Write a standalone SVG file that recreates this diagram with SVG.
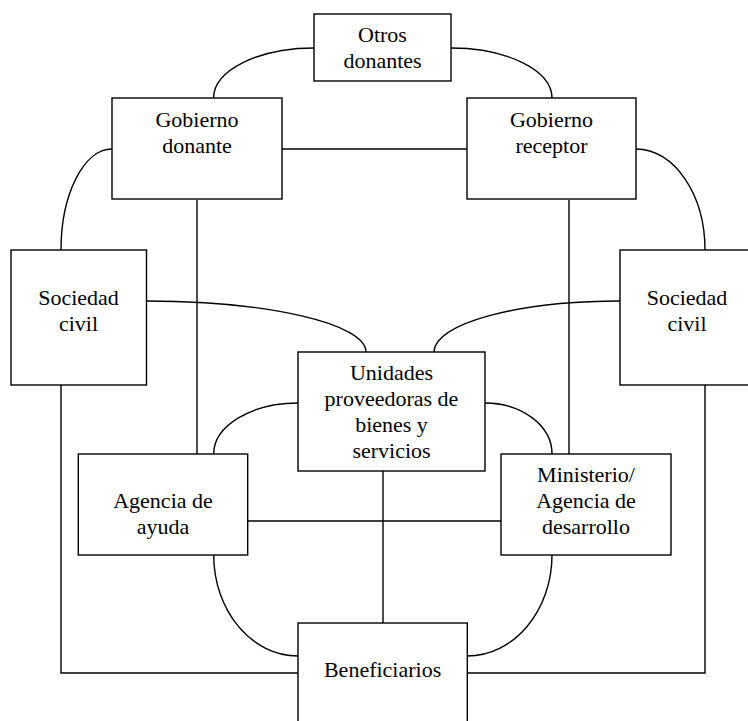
<svg xmlns="http://www.w3.org/2000/svg" width="748" height="721" viewBox="0 0 748 721">
<style>
.box{fill:#fff;stroke:#000;stroke-width:1.4}
.conn path{fill:none;stroke:#000;stroke-width:1.4}
.t text{font-size:22px;fill:#000;text-anchor:middle}
</style>
<rect width="748" height="721" fill="#fff"/>
<g class="conn" id="connectors">
<path d="M314,48 C258.6,48 213.6,70.4 213.6,98"/>
<path d="M451,48 C506.8,48 552,70.4 552,98"/>
<path d="M112,149 C83.8,149 61,194.2 61,250"/>
<path d="M636,149 C674.1,149 705,194.2 705,250"/>
<path d="M146.5,301 C267.7,301 366,323.8 366,352"/>
<path d="M620,301 C517.3,301 434,323.8 434,352"/>
<path d="M298,403 C251.5,403 213.7,425.8 213.7,454"/>
<path d="M485,403 C522,403 552,425.8 552,454"/>
<path d="M213.7,555 C213.7,610.8 251.5,656 298,656"/>
<path d="M552,555 C552,610.8 513.9,656 467,656"/>
<path d="M282,149 H467"/>
<path d="M197,200 V454"/>
<path d="M569,200 V454"/>
<path d="M61,385 V673 H298"/>
<path d="M705,385 V673 H467"/>
<path d="M247.7,521 H501"/>
<path d="M383,471 V623"/>
</g>
<g class="t" font-family="Liberation Serif, serif">
<g id="otros">
<rect class="box" x="314" y="14" width="137" height="67"/>
<text x="382.5" y="42">Otros</text>
<text x="382.5" y="68">donantes</text>
</g>
<g id="gob-donante">
<rect class="box" x="112" y="98" width="170" height="101"/>
<text x="197" y="127">Gobierno</text>
<text x="197" y="153">donante</text>
</g>
<g id="gob-receptor">
<rect class="box" x="467" y="98" width="169" height="101"/>
<text x="551.5" y="127">Gobierno</text>
<text x="551.5" y="153">receptor</text>
</g>
<g id="soc-izq">
<rect class="box" x="11" y="250" width="135.5" height="135"/>
<text x="78.5" y="305">Sociedad</text>
<text x="78.5" y="331">civil</text>
</g>
<g id="soc-der">
<rect class="box" x="620" y="250" width="134" height="135"/>
<text x="687" y="305">Sociedad</text>
<text x="687" y="331">civil</text>
</g>
<g id="unidades">
<rect class="box" x="298" y="352" width="187" height="119"/>
<text x="391.5" y="380">Unidades</text>
<text x="391.5" y="406">proveedoras de</text>
<text x="391.5" y="432">bienes y</text>
<text x="391.5" y="458">servicios</text>
</g>
<g id="agencia">
<rect class="box" x="78.3" y="454" width="169.4" height="101"/>
<text x="163" y="508">Agencia de</text>
<text x="163" y="534">ayuda</text>
</g>
<g id="ministerio">
<rect class="box" x="501" y="454" width="170" height="101"/>
<text x="586" y="482">Ministerio/</text>
<text x="586" y="508">Agencia de</text>
<text x="586" y="534">desarrollo</text>
</g>
<g id="beneficiarios">
<rect class="box" x="298" y="623" width="169.3" height="110"/>
<text x="382.6" y="677">Beneficiarios</text>
</g>
</g>
</svg>
